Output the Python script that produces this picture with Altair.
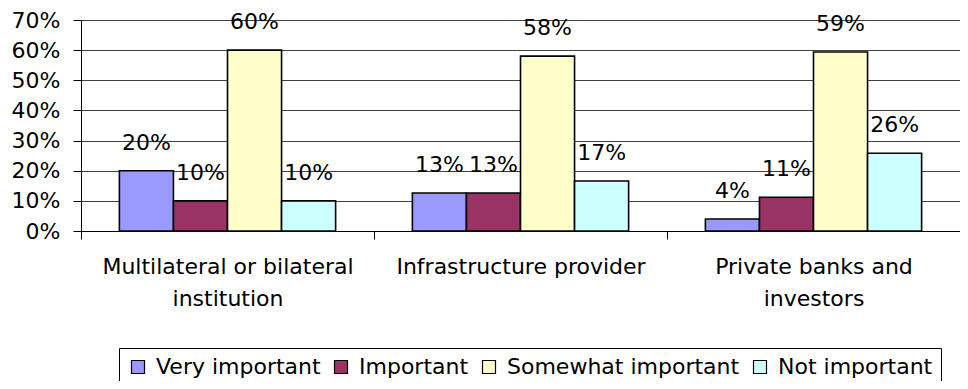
import altair as alt
import pandas as pd

categories = ["Multilateral or bilateral institution", "Infrastructure provider", "Private banks and investors"]
series = ["Very important", "Important", "Somewhat important", "Not important"]
very_important = [0.20, 0.126, 0.04]
important = [0.10, 0.126, 0.112]
somewhat_important = [0.60, 0.58, 0.594]
not_important = [0.10, 0.166, 0.258]
colors = ["#9999FF", "#993366", "#FFFFCC", "#CCFFFF"]
y_ticks = [0.0, 0.1, 0.2, 0.3, 0.4, 0.5, 0.6, 0.7]

FONT = "DejaVu Sans"
FS = 22

rows = []
for s, vals in zip(series, [very_important, important, somewhat_important, not_important]):
    for c, v in zip(categories, vals):
        rows.append({"category": c, "series": s, "value": v})
df = pd.DataFrame(rows)

label_expr = (
    "datum.value == 'Multilateral or bilateral institution' ? ['Multilateral or bilateral', 'institution'] : "
    "datum.value == 'Private banks and investors' ? ['Private banks and', 'investors'] : datum.label"
)

x_enc = alt.X(
    "category:N", sort=categories, title=None,
    scale=alt.Scale(paddingInner=0, paddingOuter=0),
    axis=alt.Axis(labelExpr=label_expr, labelAngle=0, tickBand="extent", tickSize=8,
                  tickColor="black", domainColor="black", labelFontSize=FS, labelFont=FONT,
                  labelLineHeight=32, labelPadding=17, labelLimit=400, labelColor="black"),
)
xo_enc = alt.XOffset("series:N", sort=series, scale=alt.Scale(paddingOuter=0.71, paddingInner=0))
y_enc = alt.Y(
    "value:Q", title=None,
    scale=alt.Scale(domain=[0, 0.7], nice=False),
    axis=alt.Axis(values=y_ticks, format=".0%", grid=True, gridColor="#404040", gridWidth=1.2,
                  tickSize=8, tickColor="black", domainColor="black", labelFontSize=FS,
                  labelFont=FONT, labelPadding=13, labelColor="black", labelOverlap=False),
)

bars = alt.Chart(df).mark_bar(stroke="black", strokeWidth=1.6).encode(
    x=x_enc, xOffset=xo_enc, y=y_enc,
    color=alt.Color(
        "series:N", sort=series, scale=alt.Scale(domain=series, range=colors),
        legend=alt.Legend(title=None, orient="none", legendX=38, legendY=328, direction="horizontal",
                          columns=4, strokeColor="black", fillColor="white", padding=8,
                          symbolType="square", symbolSize=169, symbolStrokeColor="black",
                          symbolStrokeWidth=1.2, labelFontSize=FS, labelFont=FONT, labelColor="black",
                          columnPadding=9, labelOffset=7, symbolOpacity=1, labelLimit=400),
    ),
)

texts = alt.Chart(df).mark_text(baseline="alphabetic", dy=-21, fontSize=FS, font=FONT, color="black").encode(
    x=x_enc, xOffset=xo_enc, y=y_enc,
    text=alt.Text("value:Q", format=".0%"),
)

chart = alt.layer(bars, texts).properties(
    width=879, height=211,
    autosize=alt.AutoSizeParams(type="none"),
    padding={"left": 73, "top": 12, "right": 0, "bottom": 150},
).configure_view(
    fill="#C0C0C0", stroke="transparent"
).configure(background="white")

chart.save("out.html", embed_options={"renderer": "svg", "actions": False})
